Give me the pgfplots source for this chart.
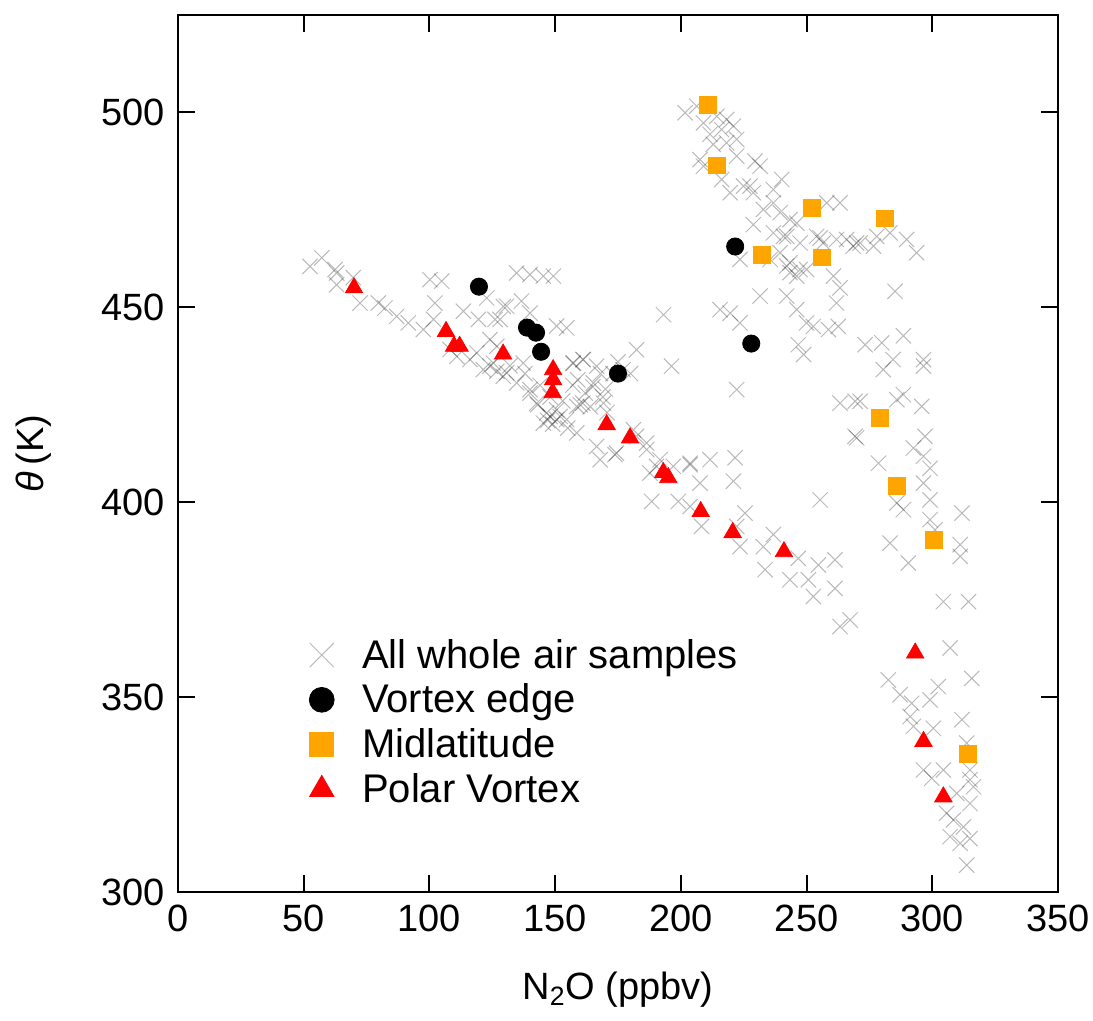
\documentclass[border=0pt]{standalone}
\usepackage{pgfplots}
\pgfplotsset{compat=1.18}
\usepackage{fontspec}
\setmainfont{Liberation Sans}
\definecolor{midlat}{RGB}{255,165,0}
\begin{document}
\begin{tikzpicture}
\useasboundingbox (-89pt,-64.5pt) rectangle (457.5pt,446pt);
\begin{axis}[
  at={(0,0)}, anchor=south west,
  scale only axis, width=440pt, height=438.5pt,
  xmin=0, xmax=350, ymin=300, ymax=525,
  xtick={0,50,...,350}, ytick={300,350,...,500},
  tick align=inside, major tick length=8.5pt,
  axis line style={line width=1pt}, every tick/.style={line width=1pt,black},
  /pgf/number format/assume math mode=true,
  ticklabel style={font=\fontsize{19}{22}\selectfont},
  xticklabel style={yshift=-3pt},
  yticklabel style={xshift=-3pt},
  xlabel={N\textsubscript{2}O (ppbv)},
  ylabel={\textit{θ}\,(K)},
  label style={font=\fontsize{19}{22}\selectfont},
  xlabel style={yshift=-13pt},
  ylabel style={yshift=18pt},
  legend style={draw=none, fill=none, at={(rel axis cs:0.142,0.298)}, anchor=north west,
    font=\fontsize{20}{23}\selectfont, row sep=2.4pt},
  legend cell align=left,
]
\addplot[only marks, mark=x, mark size=5.4pt, draw=black, opacity=0.27, line width=0.5pt,
  legend image post style={mark size=8.5pt}] coordinates {
(52.5,460.5)(57.2,462.7)(62.5,459.7)(63.1,458.8)(63.1,455.8)(69.7,457.6)(72.4,451.1)(79.7,451.1)
(82.3,449.8)(87,447.7)(91.6,446)(97.6,444.3)(101.6,446.9)(100.2,457.1)(104.9,456.7)(102.2,451.1)
(113.5,449)(119.5,446.9)(118.8,438.3)(124.1,434.9)(126.8,433.6)(129.4,432.3)(122.8,452.4)(129.4,450.2)
(124.1,441.7)(126.1,446.9)(108.2,439.2)(110.9,437.4)(116.1,436.6)(121.4,434)(134.7,458.8)(140,458.4)
(145.3,458)(149.3,458)(130.7,450.3)(136.6,451.6)(140,448.5)(128.1,446.9)(150.6,445.2)(154.6,444.7)
(126.8,440)(125.4,435.7)(130.7,433.2)(134.7,430.6)(137.3,435.7)(140,428.9)(142.7,425.4)(146.6,422.9)
(150.6,421.2)(154.6,421.2)(157.3,435.7)(161.2,436.6)(166.5,434.9)(165.2,430.6)(169.2,425.4)(158.6,424.6)
(158.6,417.8)(150.6,423.7)(148,422)(145.3,420.3)(166.5,414.3)(174.4,412.6)(167.9,410.9)(193.1,448.1)
(196.3,434.9)(182.4,439.1)(215.6,449.4)(203.7,410)(211.6,410.9)(190.3,409.2)(186.4,415.2)(182.4,416.9)
(222.2,428.9)(263.3,425.4)(269.3,425.9)(269.3,416.9)(173.8,412.2)(181.1,418.6)(186.4,413.5)(191.7,410.9)
(197,409.2)(187.7,407.5)(188.4,400.2)(199,400.2)(203.7,409.6)(221.6,411.4)(220.9,405.4)(207.6,404.9)
(203.7,398.9)(208.2,393.8)(225.5,397.2)(223.5,388.6)(222.2,393.8)(232.8,388.6)(233.5,382.7)(236.8,391.7)
(243.4,380.1)(246.7,385.6)(250.7,380.1)(252.7,375.8)(254.7,383.9)(261.3,385.2)(261.3,377.9)(255.4,400.6)
(267.3,369.8)(263.3,368.1)
(201.7,499.9)(206.3,501.6)(209,497.3)(214.3,499)(218.2,498.2)(220.9,496.5)(211.6,494.4)(216.2,495.6)
(222.2,493.1)(218.2,492.2)(212.9,491.8)(207.6,487.9)(209,486.2)(222.2,488.8)(229.5,487.5)(231.5,486.2)
(216.2,482.8)(219.6,479.4)(224.9,481.1)(227.5,481.1)(228.8,479.4)(236.8,480.2)(240.1,482.8)(232.8,475.1)
(236.8,476.8)(239.5,474.3)(228.8,471.2)(243.4,472.5)(246.1,471.6)(236.8,469.1)(240.8,468.2)(239.5,464)
(235.5,462.3)(243.4,461.4)(247.4,459.7)(254,468.2)(258,476.8)(263.3,476.8)(256.6,466.5)(261.9,467.4)
(265.9,467.4)(268.5,465.7)(271.3,466.5)(276.6,465.7)(283.2,469.1)(223.5,462.3)(231.5,452.9)(243.4,458.9)
(219.6,448.5)(223.5,446)(242.1,468.2)(247.4,466.5)(255.4,467.8)(269.9,466.5)(277.9,468.2)(289.8,467.4)
(293.8,464)(242.1,460.6)(246.1,458)(250,459.7)(260.7,458)(263.3,455)(242.1,452.9)(246.1,449.4)
(261.9,451.1)(250,446)(252.7,445.1)(258.7,444.3)(262.6,445.1)(285.2,454.1)(246.7,440.4)(248.8,437.9)
(273.3,440.4)(279.9,440.9)(288.5,442.7)(280.5,434)(284.4,436.6)(296.5,436.6)(296.5,434.9)(271.3,425.9)
(285.9,426.3)(288.5,427.6)(295.8,424.6)(269.9,416.5)(292.5,413.9)(297.1,416.9)(296.5,411.8)(278.6,410)
(299.1,408.7)(296.5,404.9)(299.1,400.6)(285.9,399.8)(288.5,398.1)(311.8,397.2)(299.1,395.5)(301.1,392.9)
(283.2,389.5)(311.1,389.1)(311.1,386.1)(290.5,384.4)(304.4,374.5)(314.4,374.5)(307.1,362.6)(315.7,354.8)
(282.5,354.4)(287.2,350.6)(291.8,348.4)(302.4,352.7)(299.1,349.3)(291.2,345)(292.5,342.5)(300.4,342)
(311.8,344.2)(296.5,331.3)(304.4,331.3)(299.8,329.2)(315,331.3)(315,328.8)(316.4,327)(309.7,325.3)
(315,322.7)(305.7,320.2)(308.4,318.5)(312.4,316.7)(307.1,314.2)(311.1,312.5)(315,313.7)(313.7,306.9)
(313.7,338.2)
(140,428)(143,425)(147,421)(149,420)(152,422)(155,419)(153,426)(148,427)(144,430)(138,433)(132,435)
(160,425)(162,428)(157,430)(168,433)(170,429)(173,433)(175,436)(157,435.7)(161,436.6)(159,431.4)
(165,429.6)(169,427)(164,424.5)(170.6,423)(161,425.4)(177,434)(180,433)
};
\addlegendentry{\hspace{12pt}All whole air samples}
\addplot[only marks, mark=*, mark size=4.3pt, black,
  legend image post style={mark size=6.2pt}] coordinates {
(119.7,455.3)(138.8,444.8)(142.4,443.5)(144.4,438.6)(175,433)(221.6,465.6)(228,440.7)
};
\addlegendentry{\hspace{12pt}Vortex edge}
\addplot[only marks, mark=square*, mark size=4.2pt, midlat,
  legend image post style={mark size=6pt}] coordinates {
(210.8,502)(214.4,486.4)(252.2,475.6)(232.3,463.5)(256.2,462.8)(281.2,472.8)(279.2,421.7)(286,404.2)(300.7,390.4)(314.2,335.4)
};
\addlegendentry{\hspace{12pt}Midlatitude}
\addplot[only marks, mark=triangle*, mark size=5pt, red,
  legend image post style={mark size=7pt}] coordinates {
(70,455)(106.6,443.8)(109.8,440)(112,440)(129.3,438)(149.2,434)(149.2,431.4)(149,428.1)
(170.5,419.9)(179.8,416.5)(193,407.6)(195,406.3)(207.9,397.6)(220.6,392.2)(241,387.3)
(293.2,361.3)(296.5,338.6)(304.4,324.4)
};
\addlegendentry{\hspace{12pt}Polar Vortex}
\end{axis}
\end{tikzpicture}
\end{document}
